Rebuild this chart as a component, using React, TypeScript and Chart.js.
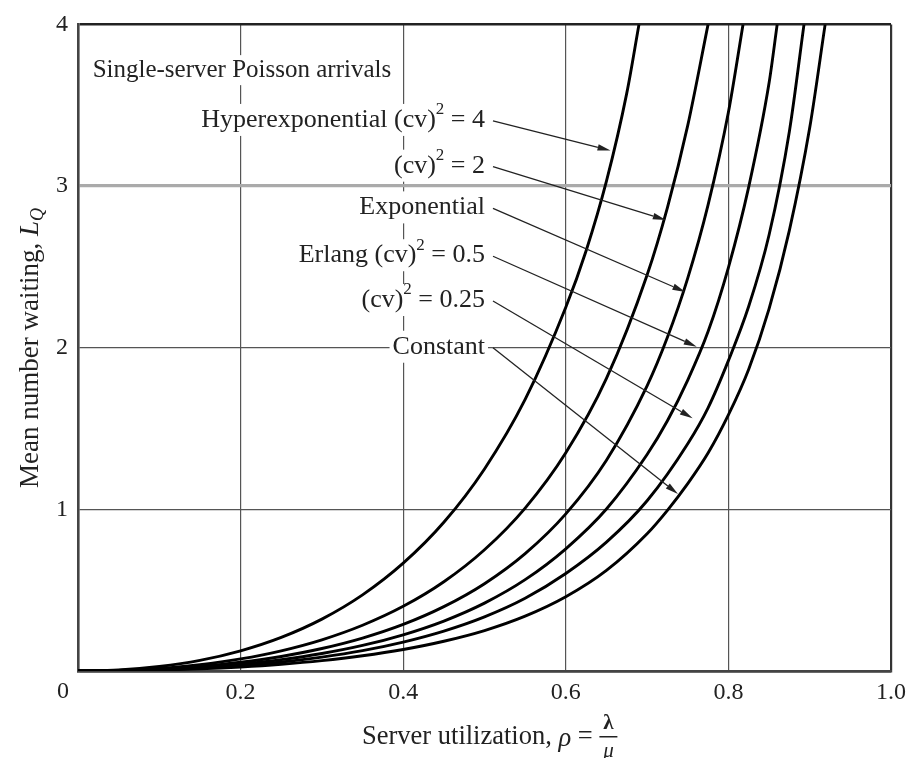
import React, { useEffect, useRef } from 'react';
import { Chart, registerables } from 'chart.js';

Chart.register(...registerables);

// ---- data ----
const xTickValues = [0, 0.2, 0.4, 0.6, 0.8, 1.0];
const yTickValues = [0, 1, 2, 3, 4];

const seriesNames = ['Hyperexponential', '', 'Exponential', 'Erlang', '', 'Constant'];
const seriesCv2 = ['4', '2', '', '0.5', '0.25', ''];

const rhoHyper4 = [0, 0.05, 0.1, 0.15, 0.2, 0.25, 0.3, 0.35, 0.4, 0.45, 0.5, 0.55, 0.6, 0.625, 0.65, 0.675, 0.69];
const lqHyper4 = [0, 0.0066, 0.028, 0.066, 0.125, 0.208, 0.321, 0.471, 0.667, 0.92, 1.25, 1.68, 2.25, 2.6, 3.03, 3.575, 4.0];

const rhoCv2 = [0, 0.05, 0.1, 0.15, 0.2, 0.25, 0.3, 0.35, 0.4, 0.45, 0.5, 0.55, 0.6, 0.65, 0.7, 0.725, 0.75, 0.775];
const lqCv2 = [0, 0.0039, 0.0167, 0.0397, 0.075, 0.125, 0.193, 0.283, 0.4, 0.552, 0.75, 1.008, 1.35, 1.81, 2.45, 2.867, 3.375, 4.0];

const rhoExp = [0, 0.05, 0.1, 0.15, 0.2, 0.25, 0.3, 0.35, 0.4, 0.45, 0.5, 0.55, 0.6, 0.65, 0.7, 0.725, 0.75, 0.775, 0.8, 0.818];
const lqExp = [0, 0.0028, 0.012, 0.0286, 0.054, 0.09, 0.139, 0.2035, 0.288, 0.398, 0.54, 0.726, 0.972, 1.304, 1.764, 2.064, 2.43, 2.883, 3.456, 4.0];

const rhoErlang = [0, 0.05, 0.1, 0.15, 0.2, 0.25, 0.3, 0.35, 0.4, 0.45, 0.5, 0.55, 0.6, 0.65, 0.7, 0.725, 0.75, 0.775, 0.8, 0.825, 0.85, 0.86];
const lqErlang = [0, 0.0022, 0.0093, 0.0222, 0.042, 0.07, 0.108, 0.158, 0.224, 0.309, 0.42, 0.565, 0.756, 1.002, 1.339, 1.548, 1.8, 2.1, 2.496, 2.995, 3.637, 4.0];

const rhoCv025 = [0, 0.05, 0.1, 0.15, 0.2, 0.25, 0.3, 0.35, 0.4, 0.45, 0.5, 0.55, 0.6, 0.65, 0.7, 0.75, 0.775, 0.8, 0.825, 0.85, 0.875, 0.893];
const lqCv025 = [0, 0.0018, 0.0074, 0.0177, 0.0335, 0.0558, 0.0861, 0.126, 0.179, 0.247, 0.335, 0.45, 0.603, 0.797, 1.053, 1.406, 1.628, 1.92, 2.256, 2.697, 3.338, 4.0];

const rhoConst = [0, 0.05, 0.1, 0.15, 0.2, 0.25, 0.3, 0.35, 0.4, 0.45, 0.5, 0.55, 0.6, 0.65, 0.7, 0.725, 0.75, 0.775, 0.8, 0.825, 0.85, 0.875, 0.9, 0.919];
const lqConst = [0, 0.0013, 0.0056, 0.0132, 0.025, 0.0417, 0.0643, 0.0942, 0.133, 0.184, 0.25, 0.339, 0.459, 0.622, 0.849, 0.994, 1.159, 1.348, 1.584, 1.867, 2.24, 2.726, 3.36, 4.0];

const seriesX = [rhoHyper4, rhoCv2, rhoExp, rhoErlang, rhoCv025, rhoConst];
const seriesY = [lqHyper4, lqCv2, lqExp, lqErlang, lqCv025, lqConst];

const boxTitle = 'Single-server Poisson arrivals';
// arrow tips (data coords) for each series label
const arrowTipX = [0.655, 0.723, 0.747, 0.761, 0.756, 0.738];
const arrowTipY = [3.22, 2.79, 2.345, 2.006, 1.563, 1.095];

// ---- layout / style ----
const FONT = '"Liberation Serif", "Times New Roman", serif';
const FS = 24;
const LFS = 26;
const TEXT = '#222';
const labelRightX = 0.5006;
const labelYs = [3.409, 3.126, 2.868, 2.572, 2.295, 2.006];

function drawArrow(ctx: CanvasRenderingContext2D, x1: number, y1: number, x2: number, y2: number) {
  const ang = Math.atan2(y2 - y1, x2 - x1);
  const len = 13;
  const half = 3.2;
  const bx = x2 - len * Math.cos(ang);
  const by = y2 - len * Math.sin(ang);
  ctx.beginPath();
  ctx.moveTo(x1, y1);
  ctx.lineTo(bx, by);
  ctx.stroke();
  ctx.beginPath();
  ctx.moveTo(x2, y2);
  ctx.lineTo(bx + half * Math.sin(ang), by - half * Math.cos(ang));
  ctx.lineTo(bx - half * Math.sin(ang), by + half * Math.cos(ang));
  ctx.closePath();
  ctx.fill();
}

type Piece = { t: string; font: string; dy: number };

function labelPieces(i: number): Piece[] {
  const reg = `${LFS}px ${FONT}`;
  const sup = `17px ${FONT}`;
  const pieces: Piece[] = [];
  const name = seriesNames[i];
  const cv = seriesCv2[i];
  if (name) pieces.push({ t: cv ? name + ' ' : name, font: reg, dy: 0 });
  if (cv) {
    pieces.push({ t: '(cv)', font: reg, dy: 0 });
    pieces.push({ t: '2', font: sup, dy: -10 });
    pieces.push({ t: ' = ' + cv, font: reg, dy: 0 });
  }
  return pieces;
}

const overlay = {
  id: 'overlay',
  beforeDatasetsDraw(chart: any) {
    const { ctx, scales } = chart;
    const xs = scales.x;
    const ys = scales.y;
    ctx.save();
    ctx.textBaseline = 'middle';
    // box title
    {
      ctx.font = `25px ${FONT}`;
      const tx = xs.getPixelForValue(0.018);
      const ty = ys.getPixelForValue(3.717);
      const w = ctx.measureText(boxTitle).width;
      ctx.fillStyle = '#fff';
      ctx.fillRect(tx - 3, ty - 15, w + 6, 30);
      ctx.fillStyle = TEXT;
      ctx.textAlign = 'left';
      ctx.fillText(boxTitle, tx, ty);
    }
    const rx = xs.getPixelForValue(labelRightX);
    seriesNames.forEach((_, i) => {
      const ty = ys.getPixelForValue(labelYs[i]);
      const pieces = labelPieces(i);
      const widths = pieces.map((p) => {
        ctx.font = p.font;
        return ctx.measureText(p.t).width;
      });
      const w = widths.reduce((a, b) => a + b, 0);
      ctx.fillStyle = '#fff';
      ctx.fillRect(rx - w - 3, ty - 16, w + 6, 32);
      ctx.fillStyle = TEXT;
      ctx.textAlign = 'left';
      let x = rx - w;
      pieces.forEach((p, k) => {
        ctx.font = p.font;
        ctx.fillText(p.t, x, ty + p.dy);
        x += widths[k];
      });
    });
    ctx.restore();
  },
  afterDatasetsDraw(chart: any) {
    const { ctx, scales } = chart;
    const xs = scales.x;
    const ys = scales.y;
    ctx.save();
    ctx.strokeStyle = '#222';
    ctx.fillStyle = '#222';
    ctx.lineWidth = 1.3;
    const rx = xs.getPixelForValue(labelRightX);
    seriesNames.forEach((_, i) => {
      const sy = ys.getPixelForValue(labelYs[i]) + 1;
      drawArrow(ctx, rx + 8, sy, xs.getPixelForValue(arrowTipX[i]), ys.getPixelForValue(arrowTipY[i]));
    });
    ctx.restore();
  },
  afterDraw(chart: any) {
    const { ctx, scales, chartArea } = chart;
    const xs = scales.x;
    ctx.save();
    ctx.fillStyle = TEXT;
    ctx.textBaseline = 'middle';
    // origin "0" label
    ctx.font = `${FS}px ${FONT}`;
    ctx.textAlign = 'center';
    ctx.fillText('0', xs.getPixelForValue(0) - 15, chartArea.bottom + 21);

    // x axis title
    const tfs = 26.5;
    const reg = `${tfs}px ${FONT}`;
    const ita = `italic ${tfs}px ${FONT}`;
    const p1 = 'Server utilization, ';
    const p2 = 'ρ';
    const p3 = ' = ';
    ctx.font = reg;
    const w1 = ctx.measureText(p1).width;
    ctx.font = ita;
    const w2 = ctx.measureText(p2).width;
    ctx.font = reg;
    const w3 = ctx.measureText(p3).width;
    const fracW = 18;
    let x0 = 362;
    const ty = 737;
    ctx.textAlign = 'left';
    ctx.font = reg;
    ctx.fillText(p1, x0, ty);
    x0 += w1;
    ctx.font = ita;
    ctx.fillText(p2, x0, ty + 2);
    x0 += w2;
    ctx.font = reg;
    ctx.fillText(p3, x0, ty);
    x0 += w3;
    const fc = x0 + fracW / 2;
    ctx.textAlign = 'center';
    ctx.font = `bold 21px ${FONT}`;
    ctx.fillText('λ', fc, ty - 13);
    ctx.font = `italic 21px ${FONT}`;
    ctx.fillText('μ', fc, ty + 14);
    ctx.fillRect(fc - fracW / 2, ty - 1, fracW, 1.5);

    // y axis title (rotated)
    ctx.save();
    ctx.translate(31, 348);
    ctx.rotate(-Math.PI / 2);
    const yfs = 27;
    const q1 = 'Mean number waiting, ';
    ctx.font = `${yfs}px ${FONT}`;
    const v1 = ctx.measureText(q1).width;
    ctx.font = `italic ${yfs}px ${FONT}`;
    const v2 = ctx.measureText('L').width;
    ctx.font = `italic 18px ${FONT}`;
    const v3 = ctx.measureText('Q').width;
    let s = -(v1 + v2 + v3) / 2;
    ctx.textAlign = 'left';
    ctx.font = `${yfs}px ${FONT}`;
    ctx.fillText(q1, s, 0);
    s += v1;
    ctx.font = `italic ${yfs}px ${FONT}`;
    ctx.fillText('L', s, 0);
    s += v2;
    ctx.font = `italic 18px ${FONT}`;
    ctx.fillText('Q', s, 7);
    ctx.restore();

    ctx.restore();
  },
};

export default function App() {
  const ref = useRef<HTMLCanvasElement>(null);
  useEffect(() => {
    const canvas = ref.current;
    if (!canvas) return;
    const datasets = seriesX.map((xsArr, i) => ({
      label: (seriesNames[i] + ' ' + seriesCv2[i]).trim(),
      data: xsArr.map((v, j) => ({ x: v, y: seriesY[i][j] })),
      borderColor: '#000',
      borderWidth: 2.9,
      pointRadius: 0,
      fill: false,
      cubicInterpolationMode: 'monotone' as const,
    }));
    const chart = new Chart(canvas, {
      type: 'line',
      data: { datasets },
      options: {
        responsive: false,
        animation: false,
        layout: { padding: { top: 21, right: 28, left: 0, bottom: 0 } },
        plugins: { legend: { display: false }, tooltip: { enabled: false } },
        scales: {
          x: {
            type: 'linear',
            min: 0,
            max: 1,
            afterBuildTicks: (s: any) => {
              s.ticks = xTickValues.map((v) => ({ value: v }));
            },
            afterFit: (s: any) => {
              s.height = 87;
            },
            ticks: {
              autoSkip: false,
              maxRotation: 0,
              padding: 7,
              color: TEXT,
              font: { family: FONT, size: FS },
              callback: (v: any) => (Number(v) === 0 ? '' : Number(v).toFixed(1)),
            },
            grid: {
              drawTicks: false,
              color: (c: any) => (c.tick && (c.tick.value === 0 || c.tick.value === 1) ? '#333' : '#555'),
              lineWidth: (c: any) => (c.tick && (c.tick.value === 0 || c.tick.value === 1) ? 2.2 : 1.2),
            },
            border: { display: true, color: '#444', width: 2.5 },
          },
          y: {
            type: 'linear',
            min: 0,
            max: 4,
            afterBuildTicks: (s: any) => {
              s.ticks = yTickValues.map((v) => ({ value: v }));
            },
            afterFit: (s: any) => {
              s.width = 78;
            },
            ticks: {
              padding: 10,
              color: TEXT,
              font: { family: FONT, size: FS },
              callback: (v: any) => (Number(v) === 0 ? '' : String(v)),
            },
            grid: {
              drawTicks: false,
              color: (c: any) => {
                const v = c.tick ? c.tick.value : -1;
                if (v === 3) return '#aaaaaa';
                if (v === 4 || v === 0) return '#222';
                return '#555';
              },
              lineWidth: (c: any) => {
                const v = c.tick ? c.tick.value : -1;
                if (v === 3) return 3.2;
                if (v === 4 || v === 0) return 2.4;
                return 1.2;
              },
            },
            border: { display: true, color: '#444', width: 2.5 },
          },
        },
      },
      plugins: [overlay],
    });
    return () => chart.destroy();
  }, []);
  return (
    <div style={{ position: 'fixed', left: 0, top: 0, width: 919, height: 758, background: '#fff' }}>
      <canvas ref={ref} width={919} height={758} style={{ width: 919, height: 758, display: 'block' }} />
    </div>
  );
}
